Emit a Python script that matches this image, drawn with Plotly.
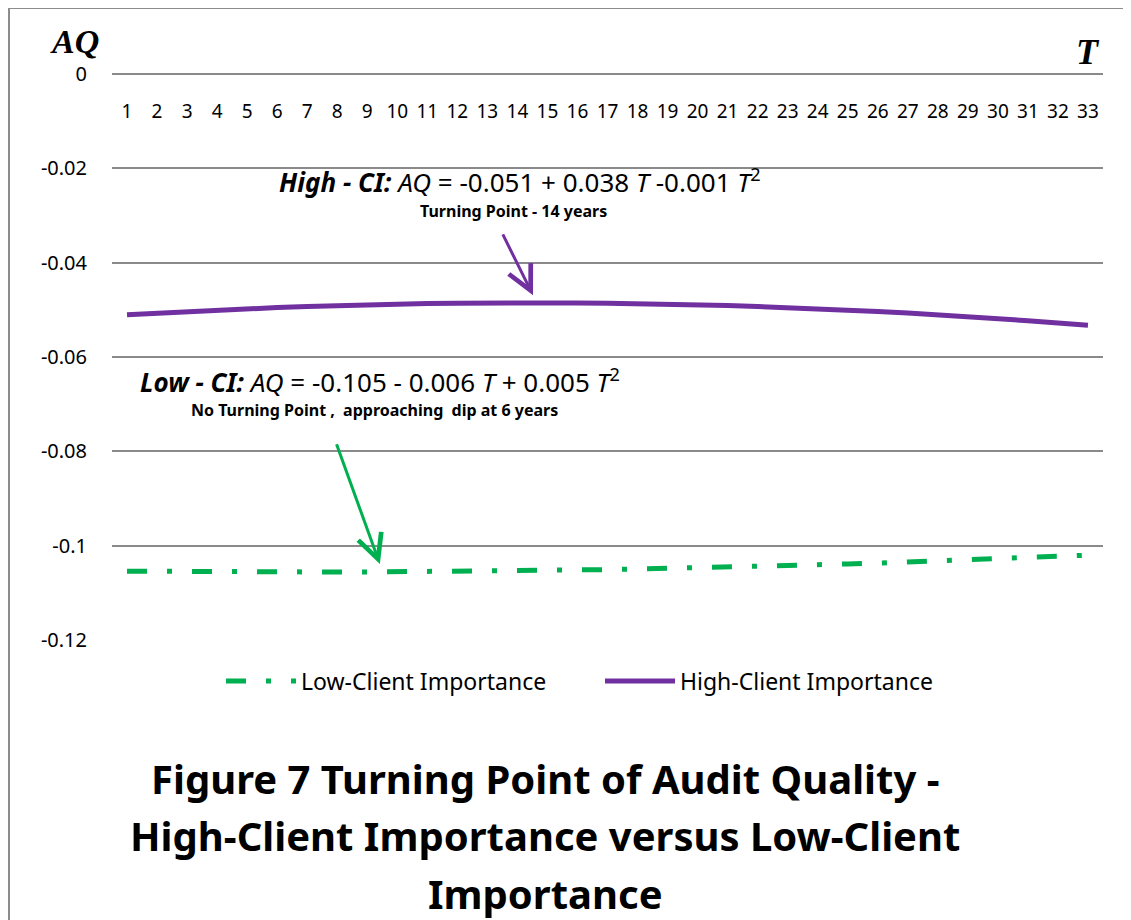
import plotly.graph_objects as go

# ---- data ----
T = list(range(1, 34))
tick_labels = [str(t) for t in T]
high_ci = [-0.05105, -0.05069, -0.05035, -0.05004, -0.04976, -0.04951, -0.04929,
           -0.04909, -0.04892, -0.04878, -0.04867, -0.04859, -0.04853, -0.04850,
           -0.04850, -0.04853, -0.04859, -0.04867, -0.04878, -0.04892, -0.04909,
           -0.04929, -0.04951, -0.04976, -0.05004, -0.05035, -0.05069, -0.05105,
           -0.05144, -0.05186, -0.05231, -0.05279, -0.05329]
low_ci = [-0.10541, -0.10547, -0.10552, -0.10555, -0.10558, -0.10559, -0.10560,
          -0.10559, -0.10558, -0.10555, -0.10552, -0.10547, -0.10541, -0.10534,
          -0.10526, -0.10517, -0.10507, -0.10496, -0.10484, -0.10470, -0.10456,
          -0.10441, -0.10424, -0.10407, -0.10388, -0.10369, -0.10348, -0.10326,
          -0.10303, -0.10280, -0.10255, -0.10229, -0.10202]
y_tickvals = [0, -0.02, -0.04, -0.06, -0.08, -0.1, -0.12]
y_ticktext = ["0", "-0.02", "-0.04", "-0.06", "-0.08", "-0.1", "-0.12"]

OFF = 8  # page body margin
W, H = 1131 - OFF, 920 - OFF
ML, MR, MT, MB = 104, 28, 66, 280
PW, PH = W - ML - MR, H - MT - MB


def px(xp):  # page pixel -> paper x
    return (xp - OFF - ML) / PW


def py(yp):  # page pixel -> paper y
    return (H - MB - (yp - OFF)) / PH


FONT = "Noto Sans"
GRID = "#8a8a8a"

fig = go.Figure()
fig.add_trace(go.Scatter(
    x=T, y=low_ci, mode="lines", name="Low-Client Importance",
    line=dict(color="#00B050", width=5, dash="20px,20px,5px,20px"),
))
fig.add_trace(go.Scatter(
    x=T, y=high_ci, mode="lines", name="High-Client Importance",
    line=dict(color="#7030A0", width=5),
))


def note(text, xp, yp, size, family=FONT):
    return dict(x=px(xp), y=py(yp), xref="paper", yref="paper", showarrow=False,
                xanchor="center", yanchor="middle", text=text,
                font=dict(family=family, size=size, color="black"))


annotations = [
    note("<b><i>AQ</i></b>", 74, 41, 34, "Liberation Serif"),
    note("<b><i>T</i></b>", 1088, 52, 36, "Liberation Serif"),
    note("<b><i>High - CI:</i></b> <i>AQ</i> = -0.051 + 0.038 <i>T</i> -0.001 <i>T</i><sup>2</sup>",
         520, 181, 26),
    note("<b>Turning Point - 14 years</b>", 513, 211, 16),
    note("<b><i>Low - CI:</i></b> <i>AQ</i> = -0.105 - 0.006 <i>T</i> + 0.005 <i>T</i><sup>2</sup>",
         380, 381, 26),
    note("<b>No Turning Point ,  approaching  dip at 6 years</b>", 374, 410, 16),
]
# arrows
annotations.append(dict(x=14.52, y=-0.0469, ax=13.49, ay=-0.0337, xref="x", yref="y",
                        axref="x", ayref="y", text="", showarrow=True,
                        arrowhead=5, arrowsize=1.6, arrowwidth=3, arrowcolor="#7030A0"))
annotations.append(dict(x=9.42, y=-0.1039, ax=7.96, ay=-0.0782, xref="x", yref="y",
                        axref="x", ayref="y", text="", showarrow=True,
                        arrowhead=5, arrowsize=1.6, arrowwidth=3, arrowcolor="#00B050"))
# figure caption lines
for txt, yc in [("Figure 7 Turning Point of Audit Quality -", 778),
                ("High-Client Importance versus Low-Client", 835),
                ("Importance", 893)]:
    annotations.append(note("<b>" + txt + "</b>", 545, yc, 40))

fig.update_layout(
    width=W, height=H,
    margin=dict(l=ML, r=MR, t=MT, b=MB, autoexpand=False),
    paper_bgcolor="white", plot_bgcolor="white",
    font=dict(family=FONT, color="black"),
    showlegend=True,
    legend=dict(orientation="h", x=px(221), xanchor="left", y=py(681), yanchor="middle",
                font=dict(family=FONT, size=23, color="black"),
                itemwidth=70, entrywidth=294, entrywidthmode="pixels",
                bgcolor="rgba(0,0,0,0)"),
    xaxis=dict(range=[0.5, 33.5], tickvals=T, ticktext=tick_labels,
               anchor="free", position=1, side="bottom",
               showgrid=False, zeroline=False, showline=True, linecolor=GRID, linewidth=2,
               ticks="", ticklabelstandoff=20,
               tickfont=dict(family=FONT, size=19, color="black")),
    yaxis=dict(range=[-0.12, 0], tickvals=y_tickvals, ticktext=y_ticktext,
               showgrid=True, gridcolor=GRID, gridwidth=1.5, zeroline=False,
               showline=False, ticks="", ticklabelstandoff=24,
               tickfont=dict(family=FONT, size=20, color="black")),
    annotations=annotations,
    shapes=[dict(type="rect", xref="paper", yref="paper",
                 x0=px(9), x1=px(1150), y0=py(940), y1=py(8),
                 line=dict(color="#8c8c8c", width=2), fillcolor="rgba(0,0,0,0)", layer="below")],
)

fig.write_html("out.html")
